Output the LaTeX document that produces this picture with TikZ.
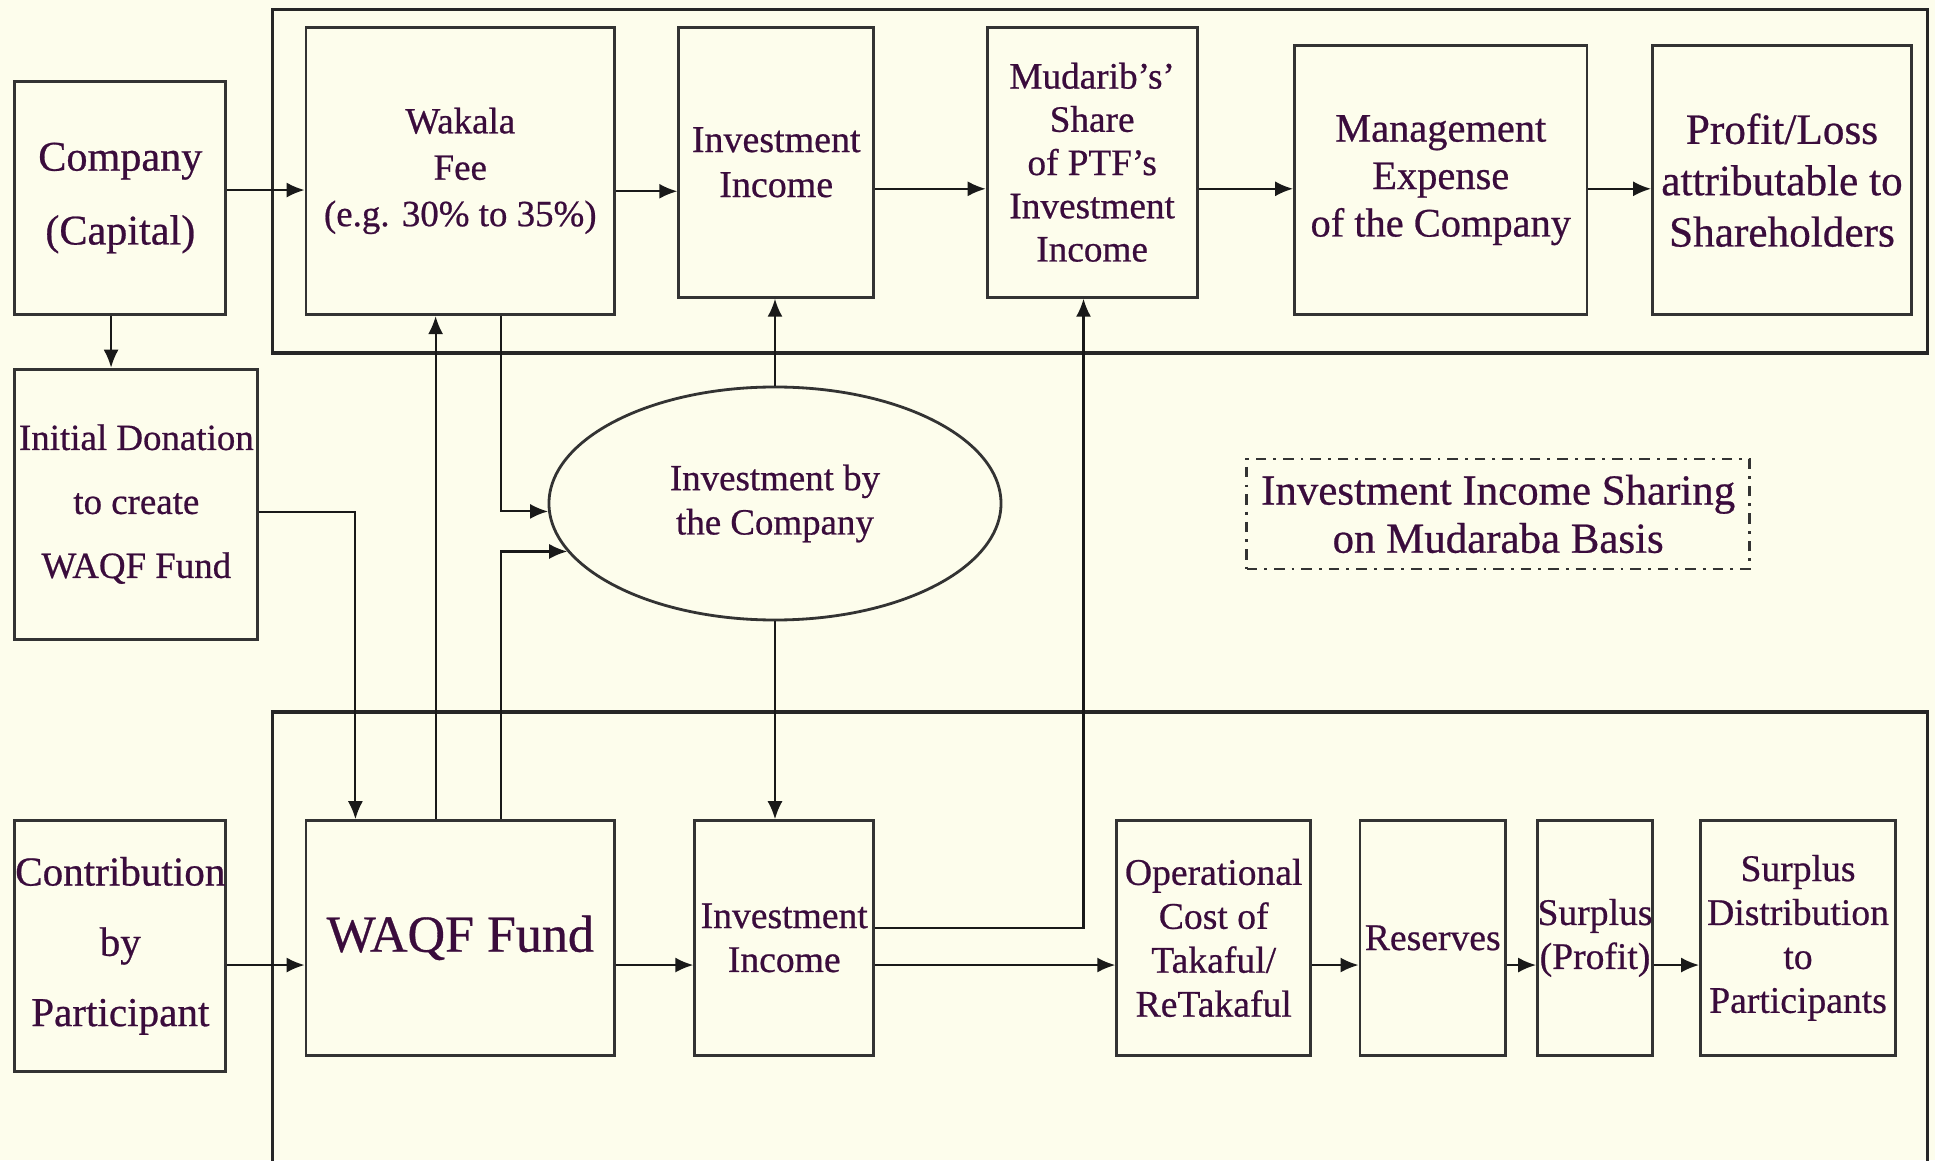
\documentclass[tikz,border=0pt]{standalone}
\usepackage{fontspec}
\setmainfont{Liberation Serif}[FakeBold=0.6]
\usetikzlibrary{arrows.meta,shapes.geometric}
\definecolor{bgcream}{RGB}{253,253,236}
\definecolor{txtpurple}{RGB}{58,12,60}

\begin{document}
\begin{tikzpicture}[x=0.1234mm, y=-0.1234mm,
    box/.style={draw=black!80, line width=0.8pt, align=center, inner sep=0pt, text=txtpurple, font=\fontsize{10.7}{12.5}\selectfont},
    arr/.style={-{Latex[length=1.8mm,width=1.5mm]}, line width=0.6pt, black!90},
    frame/.style={draw=black!85, line width=0.9pt}]
        \path[use as bounding box, fill=bgcream] (0,0) rectangle (1568,940);
        \draw[frame] (221,8) rectangle (1562,286);
        \draw[frame] (221,577) rectangle (1562,960);

        \node[box, minimum width=2.11cm, minimum height=2.33cm, font=\fontsize{12}{21}\selectfont] (comp) at (97.5,160.5) {Company\\(Capital)};
        \node[box, minimum width=3.085cm, minimum height=2.875cm, font=\fontsize{10.5}{13.2}\selectfont] (wakala) at (373,138.5) {Wakala\\Fee\\(e.g. 30\% to 35\%)};
        \node[box, minimum width=1.95cm, minimum height=2.70cm, font=\fontsize{10.8}{12.8}\selectfont] (inctop) at (629,131.5) {Investment\\Income};
        \node[box, minimum width=2.10cm, minimum height=2.70cm, font=\fontsize{10.6}{12.3}\selectfont] (mudarib) at (885,131.5) {Mudarib's’\\Share\\of PTF’s\\Investment\\Income};
        \node[box, minimum width=2.925cm, minimum height=2.69cm, font=\fontsize{11.5}{13.5}\selectfont] (mgmt) at (1167.5,146) {Management\\Expense\\of the Company};
        \node[box, minimum width=2.59cm, minimum height=2.69cm, font=\fontsize{12.3}{14.6}\selectfont] (share) at (1444,146) {Profit/Loss\\attributable to\\Shareholders};

        \node[box, minimum width=2.43cm, minimum height=2.70cm, font=\fontsize{10.5}{18.2}\selectfont] (donation) at (110.5,408.5) {Initial Donation\\to create\\WAQF Fund};
        \node[box, ellipse, minimum width=4.52cm, minimum height=2.33cm, font=\fontsize{10.5}{12.6}\selectfont] (invco) at (628,408) {Investment by\\the Company};
        \node[box, dash dot, minimum width=5.03cm, minimum height=1.10cm, font=\fontsize{12.2}{13.7}\selectfont] (mudaraba) at (1214,416.5) {Investment Income Sharing\\on Mudaraba Basis};

        \node[box, minimum width=2.11cm, minimum height=2.505cm, font=\fontsize{11.7}{20}\selectfont] (contrib) at (97.5,766.5) {Contribution\\by\\Participant};
        \node[box, minimum width=3.085cm, minimum height=2.345cm, font=\fontsize{14.8}{17}\selectfont] (waqf) at (373,760) {WAQF Fund};
        \node[box, minimum width=1.79cm, minimum height=2.345cm] (incbot) at (635.5,760) {Investment\\Income};
        \node[box, minimum width=1.94cm, minimum height=2.345cm] (opcost) at (983.5,760) {Operational\\Cost of\\Takaful/\\ReTakaful};
        \node[box, minimum width=1.456cm, minimum height=2.345cm] (reserves) at (1161,760) {Reserves};
        \node[box, minimum width=1.148cm, minimum height=2.345cm] (surplus) at (1292.5,760) {Surplus\\(Profit)};
        \node[box, minimum width=1.95cm, minimum height=2.345cm] (distrib) at (1457,760) {Surplus\\Distribution\\to\\Participants};

        \draw[arr] (comp.east |- 0,154) -- (wakala.west |- 0,154);
        \draw[arr] (wakala.east |- 0,155) -- (inctop.west |- 0,155);
        \draw[arr] (inctop.east |- 0,153) -- (mudarib.west |- 0,153);
        \draw[arr] (mudarib.east |- 0,153) -- (mgmt.west |- 0,153);
        \draw[arr] (mgmt.east |- 0,153) -- (share.west |- 0,153);
        \draw[arr] (comp.south -| 90,0) -- (donation.north -| 90,0);
        \draw[arr] (donation.east |- 0,415) -| (waqf.north -| 288,0);
        \draw[arr] (waqf.north -| 353,0) -- (wakala.south -| 353,0);
        \draw[arr] (wakala.south -| 406,0) |- (invco.182);
        \draw[arr] (waqf.north -| 406,0) |- (invco.193);
        \draw[arr] (invco.north) -- (invco.north |- inctop.south);
        \draw[arr] (invco.south) -- (invco.south |- incbot.north);
        \draw[arr] (incbot.east |- 0,752) -| (mudarib.south -| 878,0);
        \draw[arr] (contrib.east |- 0,782) -- (waqf.west |- 0,782);
        \foreach \a/\b in {waqf/incbot, incbot/opcost, opcost/reserves, reserves/surplus, surplus/distrib}
            \draw[arr] (\a.east |- 0,782) -- (\b.west |- 0,782);
        \end{tikzpicture}
\end{document}
